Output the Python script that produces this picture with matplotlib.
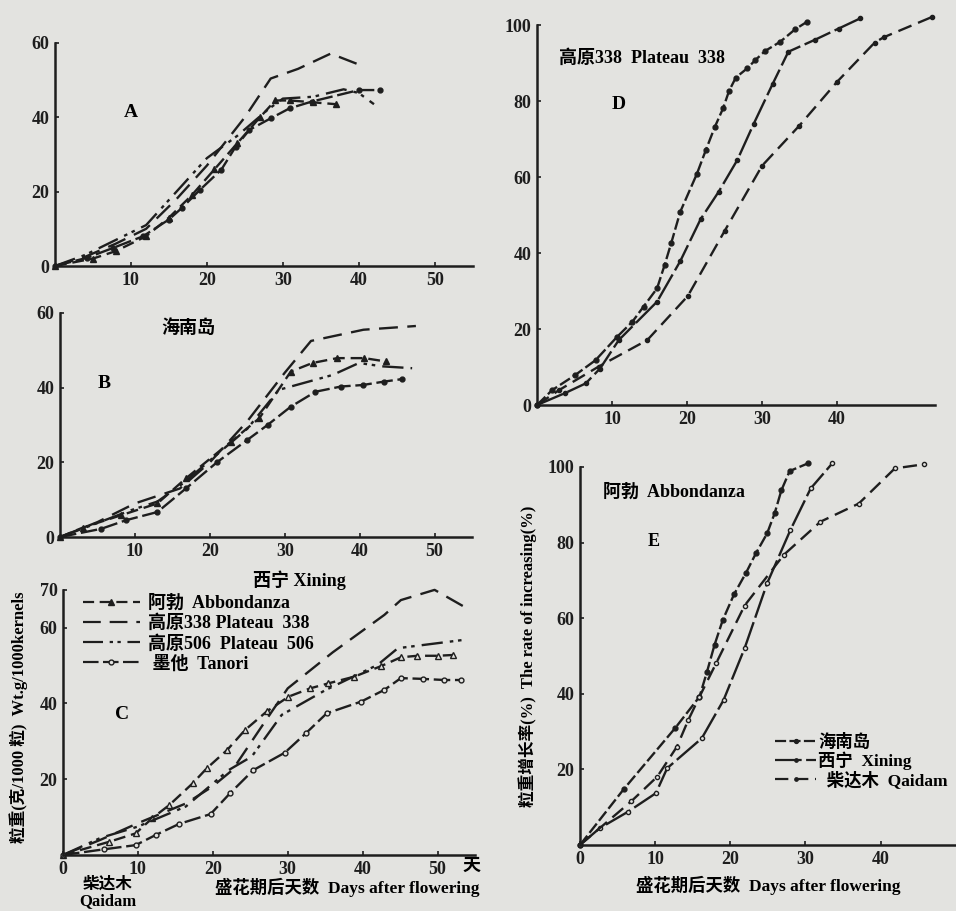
import matplotlib
matplotlib.use("Agg")
import matplotlib.pyplot as plt
from matplotlib.lines import Line2D

# ---- panel A (weight, g/1000 kernels) ----
a_abb_x = [0, 5, 8, 12, 15, 18, 21, 24, 27, 29, 31, 34, 37]
a_abb_y = [0, 2, 4, 8, 13, 19, 26, 33, 40, 44.5, 44.5, 44, 43.5]
a_338_x = [0, 4, 8, 12, 16, 20, 23, 25, 28.4, 32, 36.3, 40.2]
a_338_y = [0, 2.5, 6, 10, 18, 27, 34.8, 40, 50.4, 53, 57.1, 54]
a_506_x = [0, 4, 8, 12, 16, 20, 24, 28, 30, 34, 38, 40, 42]
a_506_y = [0, 3, 7, 11, 20, 29, 35, 42, 45, 45.5, 47.5, 46.5, 43.5]
a_tan_x = [0, 4.2, 7.7, 11.6, 15.0, 16.7, 19.1, 21.9, 23.8, 25.6, 28.4, 30.9, 33.8, 40.0, 42.8]
a_tan_y = [0, 2.2, 4.9, 8.0, 12.5, 15.6, 20.5, 25.9, 32.1, 36.6, 39.7, 42.4, 44.2, 47.3, 47.3]

# ---- panel B ----
b_abb_x = [0, 3, 8.1, 13, 16.8, 22.8, 26.6, 30.8, 33.7, 37, 40.6, 43.5]
b_abb_y = [0, 2.5, 5.8, 9, 15.7, 25.5, 31.8, 44.3, 46.6, 47.9, 47.9, 47.0]
b_338_x = [0, 5, 10, 16, 20, 25, 30, 33.5, 40.5, 47.5]
b_338_y = [0, 4, 9, 13, 20, 31, 44, 52.5, 55.5, 56.5]
b_506_x = [0, 4, 9.5, 13, 16.5, 20, 25, 29.2, 36.4, 39.9, 43, 47]
b_506_y = [0, 3, 7.2, 9.5, 14.5, 20.5, 29, 39.4, 43.4, 46.6, 45.7, 45.2]
b_tan_x = [0, 5.5, 8.8, 13, 16.8, 21, 25, 27.7, 30.8, 34.1, 37.5, 40.4, 43.2, 45.7]
b_tan_y = [0, 2.2, 4.5, 6.7, 13, 20.1, 26, 30, 34.9, 38.9, 40.3, 40.7, 41.6, 42.3]

# ---- panel C ----
c_abb_x = [0, 6.2, 9.7, 11.9, 14.2, 17.3, 19.2, 21.9, 24.3, 27.2, 30.1, 33, 35.4, 38.9, 42.5, 45.1, 47.3, 50, 52]
c_abb_y = [0, 3.5, 5.7, 9.7, 13.2, 18.9, 22.9, 27.7, 33, 37.9, 41.8, 44, 45.3, 47.1, 49.9, 52.2, 52.6, 52.6, 52.8]
c_338_x = [0, 5, 10, 16.4, 19.9, 22.6, 27.4, 30, 36, 42.9, 45.1, 49.6, 53.5]
c_338_y = [0, 4, 8.4, 13.6, 18, 22.4, 36.5, 44, 53.5, 63.4, 67.3, 70, 65.6]
c_506_x = [0, 5, 10, 16.4, 22.1, 25.2, 29.2, 35, 42, 44.7, 53.5]
c_506_y = [0, 4.5, 7.5, 12.8, 22.4, 26, 37, 43.5, 50.2, 54.6, 56.8]
c_tan_x = [0, 5.5, 9.7, 12.4, 15.5, 19.7, 22.3, 25.4, 29.6, 32.4, 35.2, 39.8, 42.9, 45.1, 48, 50.9, 53.1]
c_tan_y = [0, 1.5, 2.6, 5.3, 8.2, 10.8, 16.3, 22.4, 27, 32.1, 37.4, 40.5, 43.6, 46.7, 46.5, 46.2, 46.2]

# ---- panel D (rate of increasing, %) Plateau 338 ----
d_hn_x = [0, 2, 5.1, 7.8, 10.7, 12.7, 14.2, 16, 17, 17.9, 19.1, 21.3, 22.5, 23.7, 24.8, 25.6, 26.5, 28, 29.1, 30.4, 32.4, 34.4, 36]
d_hn_y = [0, 3.9, 7.9, 11.8, 18, 21.9, 25.9, 30.7, 36.8, 42.7, 50.9, 60.8, 67.1, 73.2, 78.1, 82.7, 86.2, 88.6, 90.8, 93.2, 95.6, 98.9, 100.9]
d_xn_x = [0, 3.8, 6.5, 8.4, 10.9, 16, 19.1, 21.8, 24.2, 26.7, 28.9, 31.4, 33.5, 37.1, 40.2, 43.1]
d_xn_y = [0, 3.2, 5.7, 9.6, 17.1, 27.2, 37.9, 48.9, 56.1, 64.5, 74.1, 84.5, 93, 96.2, 99.1, 101.8]
d_qd_x = [0, 3, 8.2, 14.7, 20.1, 25, 30, 34.9, 40, 45, 46.2, 52.7]
d_qd_y = [0, 4, 10.1, 17.1, 28.7, 45.8, 63, 73.4, 85.1, 95.4, 96.8, 102.2]

# ---- panel E Abbondanza ----
e_hn_x = [0, 5.8, 12.7, 15.9, 16.9, 17.9, 19, 20.5, 22.1, 23.4, 24.9, 25.9, 26.8, 27.9, 30.3]
e_hn_y = [0, 14.7, 31, 39.2, 45.8, 52.9, 59.5, 66.3, 72, 77.1, 82.4, 87.7, 93.8, 98.9, 100.9]
e_xn_x = [0, 2.6, 6.4, 10.1, 11.6, 16.2, 19.1, 21.9, 24.9, 28, 30.7, 33.6]
e_xn_y = [0, 4.4, 8.8, 13.7, 20.3, 28.2, 38.3, 52, 69.2, 83.3, 94.3, 101]
e_qd_x = [0, 6.8, 10.3, 12.9, 14.4, 15.9, 18.1, 21.9, 27.1, 32, 37.1, 41.9, 45.8]
e_qd_y = [0, 11.5, 18.1, 26, 33, 39.2, 48, 63.3, 76.7, 85.5, 90.3, 99.6, 100.7]

BG = '#e3e3e0'
INK = '#1e1e1e'
FONT = ['Liberation Serif', 'Noto Sans CJK SC']
plt.rcParams['font.family'] = FONT
plt.rcParams['font.size'] = 12
plt.rcParams['font.weight'] = 'bold'

st_abb = dict(ls=(0, (5, 2.5)), marker='^', ms=4)
st_338 = dict(ls=(0, (8, 4)), marker=None)
st_506 = dict(ls=(0, (9, 3, 1.5, 2, 1.5, 3)), marker=None)
st_tan = dict(ls=(0, (7, 2)), marker='o', ms=3.5)
st_hn = dict(ls=(0, (5, 1.5)), marker='o', ms=3.5)
st_xn = dict(ls=(0, (12, 2)), marker='o', ms=3)
st_qd = dict(ls=(0, (6, 3)), marker='o', ms=3)

fig = plt.figure(figsize=(9.56, 9.11), dpi=100, facecolor=BG)


def make_ax(rect, xlim, ylim, xticks, yticks):
    ax = fig.add_axes(rect)
    ax.set_facecolor('none')
    ax.set_xlim(*xlim)
    ax.set_ylim(*ylim)
    for s in ['top', 'right']:
        ax.spines[s].set_visible(False)
    for s in ['left', 'bottom']:
        ax.spines[s].set_linewidth(1.8)
        ax.spines[s].set_color(INK)
    ax.set_xticks(xticks)
    ax.set_yticks(yticks)
    ax.tick_params(direction='in', length=3, width=1.2, colors=INK, labelsize=13, pad=4)
    return ax


def curve(ax, x, y, st, mfc=INK):
    ax.plot(x, y, color=INK, lw=1.7, mfc=mfc, mec=INK, clip_on=False, **st)


# A
axA = make_ax([0.0575, 0.708, 0.437, 0.245], (0, 55), (0, 60), [10, 20, 30, 40, 50], [0, 20, 40, 60])
curve(axA, a_abb_x, a_abb_y, st_abb)
curve(axA, a_338_x, a_338_y, st_338)
curve(axA, a_506_x, a_506_y, st_506)
curve(axA, a_tan_x, a_tan_y, st_tan)
axA.text(9, 40, 'A', fontsize=14, fontweight='bold')

# B
axB = make_ax([0.0628, 0.4105, 0.431, 0.246], (0, 55), (0, 60), [10, 20, 30, 40, 50], [0, 20, 40, 60])
curve(axB, b_abb_x, b_abb_y, st_abb)
curve(axB, b_338_x, b_338_y, st_338)
curve(axB, b_506_x, b_506_y, st_506)
curve(axB, b_tan_x, b_tan_y, st_tan)
axB.text(5, 40, 'B', fontsize=14, fontweight='bold')
axB.text(13.5, 56, '海南岛', fontsize=13, fontweight='bold', va='center')
axB.text(32, -11.5, '西宁 Xining', fontsize=13, fontweight='bold', ha='center', va='center')

# C
axC = make_ax([0.0659, 0.0615, 0.431, 0.291], (0, 55), (0, 70), [0, 10, 20, 30, 40, 50], [20, 40, 60, 70])
curve(axC, c_abb_x, c_abb_y, st_abb, mfc=BG)
curve(axC, c_338_x, c_338_y, st_338)
curve(axC, c_506_x, c_506_y, st_506)
curve(axC, c_tan_x, c_tan_y, st_tan, mfc=BG)
axC.text(7, 36, 'C', fontsize=14, fontweight='bold')
axC.text(53.3, -3.0, '天', fontsize=13, fontweight='bold', va='center')
axC.set_ylabel('粒重(克/1000 粒)  Wt.g/1000kernels', fontsize=12, fontweight='bold')
axC.yaxis.set_label_coords(-0.085, 0.52)
axC.text(6, -7.9, '柴达木', fontsize=12, fontweight='bold', ha='center', va='center')
axC.text(6, -12.3, 'Qaidam', fontsize=12, fontweight='bold', ha='center', va='center')
axC.text(38, -8.5, '盛花期后天数  Days after flowering', fontsize=12.5, fontweight='bold',
         ha='center', va='center')
handles = [Line2D([], [], color=INK, lw=1.6, mfc=INK, **st_abb),
           Line2D([], [], color=INK, lw=1.6, **st_338),
           Line2D([], [], color=INK, lw=1.6, **st_506),
           Line2D([], [], color=INK, lw=1.6, mfc=BG, **st_tan)]
labels = ['阿勃  Abbondanza', '高原338 Plateau  338', '高原506  Plateau  506', ' 墨他  Tanori']
axC.legend(handles, labels, loc='upper left', bbox_to_anchor=(0.03, 1.01), frameon=False,
           handlelength=3.2, handletextpad=0.4, labelspacing=0.15, borderaxespad=0,
           prop=dict(family=FONT, size=13, weight='bold'))

# D
axD = make_ax([0.5617, 0.5554, 0.416, 0.417], (0, 53), (0, 100), [10, 20, 30, 40], [0, 20, 40, 60, 80, 100])
curve(axD, d_hn_x, d_hn_y, st_hn)
curve(axD, d_xn_x, d_xn_y, st_xn)
curve(axD, d_qd_x, d_qd_y, st_qd)
axD.text(3, 90, '高原338  Plateau  338', fontsize=13, fontweight='bold')
axD.text(10, 78, 'D', fontsize=14, fontweight='bold')

# E
axE = make_ax([0.6067, 0.0725, 0.393, 0.415], (0, 50), (0, 100), [0, 10, 20, 30, 40], [20, 40, 60, 80, 100])
curve(axE, e_hn_x, e_hn_y, st_hn)
curve(axE, e_xn_x, e_xn_y, st_xn, mfc=BG)
curve(axE, e_qd_x, e_qd_y, st_qd, mfc=BG)
axE.text(3, 92, '阿勃  Abbondanza', fontsize=13, fontweight='bold')
axE.text(9, 79, 'E', fontsize=13, fontweight='bold')
axE.set_ylabel('粒重增长率(%)  The rate of increasing(%)', fontsize=12, fontweight='bold')
axE.yaxis.set_label_coords(-0.115, 0.5)
axE.set_xlabel('盛花期后天数  Days after flowering', fontsize=12.5, fontweight='bold', labelpad=6)
handlesE = [Line2D([], [], color=INK, lw=1.6, **st_hn),
            Line2D([], [], color=INK, lw=1.6, **st_xn),
            Line2D([], [], color=INK, lw=1.6, **st_qd)]
labelsE = ['海南岛', '西宁  Xining', '  柴达木  Qaidam']
axE.legend(handlesE, labelsE, loc='lower left', bbox_to_anchor=(0.5, 0.13), frameon=False,
           handlelength=2.4, handletextpad=0.1, labelspacing=0.05, borderaxespad=0, markerscale=0.8,
           prop=dict(family=FONT, size=12.5, weight='bold'))

fig.savefig('out.png', dpi=100, facecolor=BG)
